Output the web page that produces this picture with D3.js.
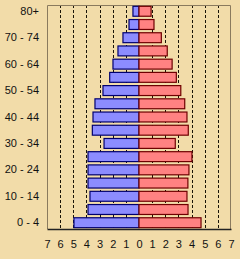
<!DOCTYPE html>
<meta charset="utf-8">
<head>
    <style>
        body{
            margin: 0;
            background-color: #F2DCA9;
        }
        .axis text{
            font-family: "Liberation Sans", Arial, sans-serif;
            font-size: 11px;
            fill: #111;
        }
        .grid line{
            stroke: #1a1408;
            stroke-dasharray: 3,2;
        }
    </style>
</head>
<body>
<div id="pyramid"></div>
<script src="https://d3js.org/d3.v7.min.js"></script>
<script>

    // age groups, bottom to top
    const ages = ["0 - 4","5 - 9","10 - 14","15 - 19","20 - 24","25 - 29","30 - 34","35 - 39",
        "40 - 44","45 - 49","50 - 54","55 - 59","60 - 64","65 - 69","70 - 74","75 - 79","80+"];
    // percent of population
    const male   = [4.95,3.88,3.73,3.88,3.88,3.88,2.66,3.55,3.5,3.35,2.74,2.23,1.98,1.6,1.22,0.76,0.46];
    const female = [4.72,3.73,3.65,3.72,3.8,4.03,2.76,3.75,3.65,3.48,3.18,2.84,2.52,2.15,1.7,1.14,0.92];
    const ageLabels = ["0 - 4","10 - 14","20 - 24","30 - 34","40 - 44","50 - 54","60 - 64","70 - 74","80+"];
    const xTicks = [-7,-6,-5,-4,-3,-2,-1,0,1,2,3,4,5,6,7];
    const gridTicks = [-6,-5,-4,-3,-2,-1,1,2,3,4,5,6];

    const margin = {top:5, right:9, bottom:30, left:47},
        width = 240 - margin.left - margin.right,
        height = 259 - margin.top - margin.bottom;

    const svg = d3.select("#pyramid")
        .append("svg")
        .attr("width", 240)
        .attr("height", 259)
        .append("g")
        .attr("transform", `translate(${margin.left}, ${margin.top})`);

    const x = d3.scaleLinear()
        .domain([-7, 7])
        .range([0, width]);

    const y = d3.scaleBand()
        .domain(ages)
        .range([height, 0])
        .paddingInner(0.25)
        .paddingOuter(0.1);

    // dashed gridlines
    svg.append("g")
        .attr("class", "grid")
        .selectAll("line")
        .data(gridTicks)
        .join("line")
        .attr("x1", d => Math.round(x(d)) + 0.5)
        .attr("x2", d => Math.round(x(d)) + 0.5)
        .attr("y1", 0)
        .attr("y2", height);

    // frame
    svg.append("path")
        .attr("d", `M0.5,${height} V0.5 H${width - 0.5} V${height}`)
        .attr("fill", "none")
        .attr("stroke", "#8a7a5e");

    // male bars (left)
    svg.append("g")
        .selectAll("rect")
        .data(ages)
        .join("rect")
        .attr("x", (d, i) => x(-male[i]))
        .attr("y", d => y(d))
        .attr("width", (d, i) => x(0) - x(-male[i]))
        .attr("height", y.bandwidth())
        .attr("fill", "#8C8CFF")
        .attr("stroke", "#00006E")
        .attr("stroke-width", 1.2);

    // female bars (right)
    svg.append("g")
        .selectAll("rect")
        .data(ages)
        .join("rect")
        .attr("x", x(0))
        .attr("y", d => y(d))
        .attr("width", (d, i) => x(female[i]) - x(0))
        .attr("height", y.bandwidth())
        .attr("fill", "#FF8282")
        .attr("stroke", "#6E0000")
        .attr("stroke-width", 1.2);

    // x axis
    const xAxis = svg.append("g")
        .attr("class", "axis")
        .attr("transform", `translate(0, ${height})`)
        .call(d3.axisBottom(x).tickValues(xTicks).tickSize(0).tickPadding(11)
            .tickFormat(d => Math.abs(d)));
    xAxis.select(".domain").attr("stroke", "#222").attr("stroke-width", 1.5);

    // y labels
    const yAxis = svg.append("g")
        .attr("class", "axis")
        .call(d3.axisLeft(y).tickValues(ageLabels).tickSize(0).tickPadding(8));
    yAxis.select(".domain").remove();

</script>
</body>
